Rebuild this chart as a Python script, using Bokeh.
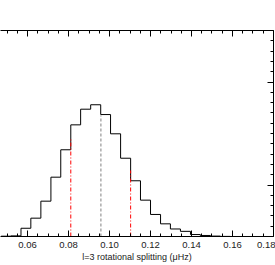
from bokeh.plotting import figure
from bokeh.models import LinearAxis, SingleIntervalTicker, FixedTicker, PrintfTickFormatter, Range1d
from bokeh.embed import file_html
from bokeh.resources import INLINE

# Histogram data (bin edges in muHz, counts)
bin_edges = [0.0471, 0.0519, 0.0568, 0.0616, 0.0665, 0.0714, 0.0762, 0.0811,
             0.0859, 0.0908, 0.0957, 0.1005, 0.1054, 0.1103, 0.1151, 0.1200,
             0.1249, 0.1297, 0.1346, 0.1395, 0.1443, 0.1492, 0.1541, 0.1589]
counts = [3, 6, 80, 178, 343, 576, 842, 1084, 1236, 1279, 1184, 997, 760,
          541, 353, 214, 123, 73, 50, 19, 10, 4, 1]

# Marker lines: credible interval (red) and median (gray)
ci_x = [0.0811, 0.1103]
ci_top = [951, 641]
med_x = [0.0958]
med_top = [1175]

y_major = [500, 1500]
y_minor = [100, 200, 300, 400, 600, 700, 800, 900, 1000, 1100, 1200, 1300,
           1400, 1600, 1700, 1800, 1900]

FONT = "Liberation Sans"

p = figure(frame_width=273, frame_height=206, output_backend="svg",
           toolbar_location=None, x_axis_type=None, y_axis_type=None,
           x_range=Range1d(0.0468, 0.18001), y_range=Range1d(0, 2000),
           min_border_left=0, min_border_right=2, min_border_top=30,
           min_border_bottom=0)
p.outline_line_color = None
p.grid.visible = False
p.background_fill_color = "white"
p.border_fill_color = "white"

# step outline
xs, ys = [], []
for i, c in enumerate(counts):
    xs += [bin_edges[i], bin_edges[i + 1]]
    ys += [c, c]
xs = xs + [bin_edges[-1]]
ys = ys + [0]
p.line(xs, ys, line_color="black", line_width=1)

for x, t in zip(ci_x, ci_top):
    p.segment(x0=[x], y0=[0], x1=[x], y1=[t], line_color="red",
              line_dash="4 2 1 2", line_width=1)
for x, t in zip(med_x, med_top):
    p.segment(x0=[x], y0=[0], x1=[x], y1=[t], line_color="gray",
              line_dash="3 2", line_width=1)

def style(ax, labels):
    ax.axis_line_color = "black"
    ax.major_tick_line_color = "black"
    ax.minor_tick_line_color = "black"
    ax.major_tick_in = 6
    ax.major_tick_out = 0
    ax.minor_tick_in = 3
    ax.minor_tick_out = 0
    if not labels:
        ax.major_label_text_color = None
        ax.major_label_standoff = 0
        ax.axis_label_standoff = 0

xb = LinearAxis(ticker=SingleIntervalTicker(interval=0.02, num_minor_ticks=4),
                formatter=PrintfTickFormatter(format="%.2f"),
                axis_label="l=3 rotational splitting (\u03bcHz)")
style(xb, True)
xb.major_label_text_font = FONT
xb.major_label_text_font_size = "9.5px"
xb.major_label_text_color = "#222222"
xb.major_label_standoff = 5
xb.axis_label_text_font = FONT
xb.axis_label_text_font_size = "9px"
xb.axis_label_text_font_style = "normal"
xb.axis_label_text_color = "#222222"
xb.axis_label_standoff = 1
p.add_layout(xb, "below")

xt = LinearAxis(ticker=SingleIntervalTicker(interval=0.02, num_minor_ticks=4))
style(xt, False)
p.add_layout(xt, "above")

yr = LinearAxis(ticker=FixedTicker(ticks=y_major, minor_ticks=y_minor))
style(yr, False)
p.add_layout(yr, "right")

open("out.html", "w").write(file_html(p, INLINE))
